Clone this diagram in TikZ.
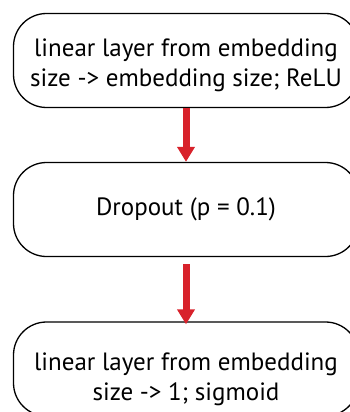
\documentclass[tikz,border=0pt]{standalone}
\usepackage{fontspec}
\setmainfont{PT Sans}
\usetikzlibrary{arrows.meta}
\definecolor{arrowred}{HTML}{D8222B}
\tikzset{
  stepbox/.style={draw=black, line width=1.3pt, rounded corners=33pt, minimum width=345pt, minimum height=94pt, inner sep=0pt},
  boxtext/.style={align=center, inner sep=0pt, font=\fontsize{25}{30}\selectfont},
  redarrow/.style={draw=arrowred, line width=7pt, -{Triangle[width=17pt,length=15pt]}, arrowred}
}
\begin{document}
\begin{tikzpicture}[x=1pt,y=-1pt]
\useasboundingbox (0,0) rectangle (350,412);
\clip (0,0) rectangle (350,412);
\node[stepbox] (b1) at (186,60.5) {};
\node[stepbox] (b2) at (186,209.5) {};
\node[stepbox] (b3) at (186,369) {};
\node[boxtext, anchor=base] (t1) at (186,86) {linear layer from embedding\\size -> embedding size; ReLU};
\node[boxtext, anchor=base] (t2) at (186,215) {Dropout (p = 0.1)};
\node[boxtext, anchor=base] (t3) at (186,400) {linear layer from embedding\\size -> 1; sigmoid};
\draw[redarrow] (b1.south) -- (b2.north);
\draw[redarrow] ([yshift=-7pt]b2.south) -- ([yshift=-3pt]b3.north);
\end{tikzpicture}
\end{document}
